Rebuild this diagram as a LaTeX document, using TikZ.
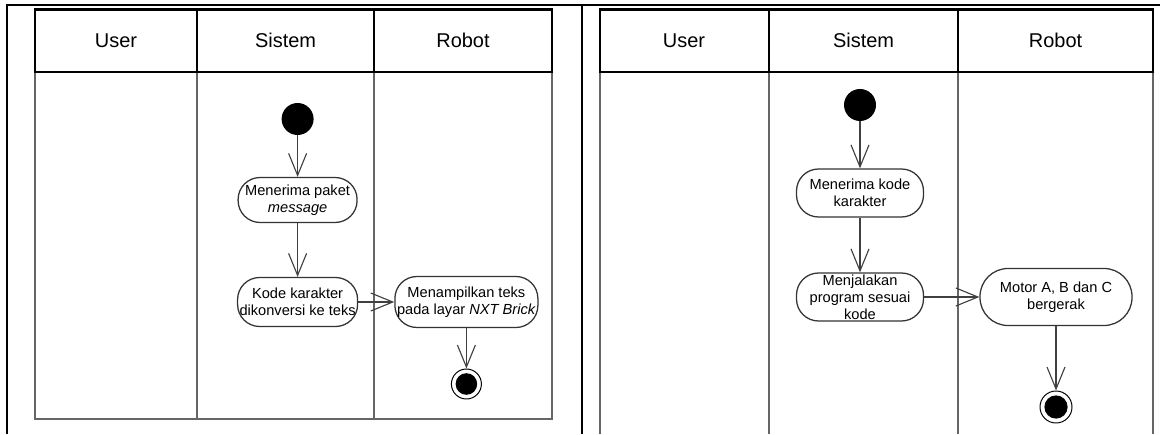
\documentclass[tikz,border=0pt]{standalone}
\usepackage{fontspec}
\setmainfont{Liberation Sans}
\usetikzlibrary{positioning,arrows.meta}

\begin{document}
\begin{tikzpicture}[
  act/.style={draw=black!80, line width=0.9pt, rounded corners=0.55cm, align=center, inner sep=1pt, font=\fontsize{10.4}{12.2}\selectfont},
  flow/.style={draw=black!75, line width=0.8pt, -{Straight Barb[length=0.55cm, width=0.45cm, line width=0.8pt]}},
  lane/.style={draw=black!60, line width=1pt},
  hdr/.style={font=\fontsize{14.2}{16}\selectfont}
]
  \useasboundingbox (0,0) rectangle (29.1,10.85);

  % Outer table
  \draw[line width=1.6pt] (0.175,0) -- (0.175,10.725) -- (29.0,10.725);
  \draw[line width=1.6pt] (14.55,0) -- (14.55,10.725);

  % Left swimlanes
  \draw[lane] (0.875,9.05) -- (0.875,0.375) -- (13.8,0.375) -- (13.8,9.05);
  \draw[lane] (4.925,9.05) -- (4.925,0.375);
  \draw[lane] (9.35,9.05) -- (9.35,0.375);
  \draw[line width=2pt] (0.875,9.05) rectangle (13.8,10.6125);
  \draw[line width=2pt] (4.925,9.05) -- (4.925,10.6125);
  \draw[line width=2pt] (9.35,9.05) -- (9.35,10.6125);
  \node[hdr] (userA) at (2.9,9.83) {User};
  \node[hdr] (sysA) at (7.14,9.83) {Sistem};
  \node[hdr] (robotA) at (11.575,9.83) {Robot};

  % Left activities
  \node[circle, fill=black, minimum size=0.8cm, inner sep=0] (startA) at (7.44,7.875) {};
  \node[act, minimum width=2.975cm, minimum height=1.125cm] (recvA) at (7.44,5.85) {Menerima paket\\\textit{message}};
  \node[act, minimum width=3.0cm, minimum height=1.225cm] (convA) at (7.44,3.3) {Kode karakter\\dikonversi ke teks};
  \node[act, minimum width=3.575cm, minimum height=1.275cm] (showA) at (11.66,3.3) {Menampilkan teks\\pada layar \textit{NXT Brick}};
  \node[circle, draw=black, line width=0.7pt, minimum size=0.75cm, inner sep=0] (endA) at (11.66,1.25) {};
  \fill (endA.center) circle (0.27cm);

  \draw[flow] (startA) -- (recvA);
  \draw[flow] (recvA) -- (convA);
  \draw[flow] (convA) -- (showA);
  \draw[flow] (showA) -- (endA);

  % Right swimlanes
  \draw[lane] (15.0,9.05) -- (15.0,0);
  \draw[lane] (19.225,9.05) -- (19.225,0);
  \draw[lane] (23.95,9.05) -- (23.95,0);
  \draw[lane] (28.825,9.05) -- (28.825,0);
  \draw[line width=2pt] (15.0,9.05) rectangle (28.825,10.6125);
  \draw[line width=2pt] (19.225,9.05) -- (19.225,10.6125);
  \draw[line width=2pt] (23.95,9.05) -- (23.95,10.6125);
  \node[hdr] (userB) at (17.1,9.83) {User};
  \node[hdr] (sysB) at (21.59,9.83) {Sistem};
  \node[hdr] (robotB) at (26.39,9.83) {Robot};

  % Right activities
  \node[circle, fill=black, minimum size=0.8cm, inner sep=0] (startB) at (21.5,8.225) {};
  \node[act, minimum width=3.175cm, minimum height=1.2cm] (recvB) at (21.5,6.025) {Menerima kode\\karakter};
  \node[act, minimum width=3.175cm, minimum height=1.2cm, inner ysep=-3pt] (runB) at (21.5,3.425) {Menjalakan\\program sesuai\\kode};
  \node[act, minimum width=3.8cm, minimum height=1.425cm, rounded corners=0.7cm] (moveB) at (26.4,3.425) {Motor A, B dan C\\bergerak};
  \node[circle, draw=black, line width=0.7pt, minimum size=0.8cm, inner sep=0] (endB) at (26.4,0.675) {};
  \fill (endB.center) circle (0.29cm);

  \draw[flow] (startB) -- (recvB);
  \draw[flow] (recvB) -- (runB);
  \draw[flow] (runB) -- (moveB);
  \draw[flow] (moveB) -- (endB);
\end{tikzpicture}
\end{document}
